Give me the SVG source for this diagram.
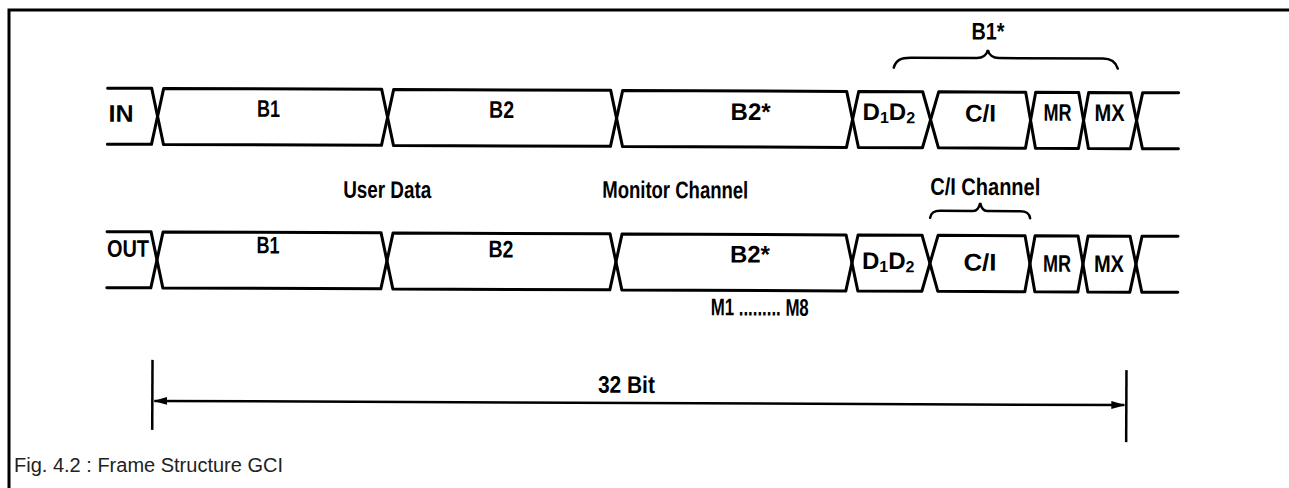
<svg xmlns="http://www.w3.org/2000/svg" width="1289" height="488" viewBox="0 0 1289 488">
<style>
.cell{fill:none;stroke:#000;stroke-width:3;stroke-linejoin:round;stroke-linecap:round}
.lbl{font-family:"Liberation Sans",Arial,sans-serif;font-weight:bold;font-size:24px;fill:#000}
.sub{font-size:16px}
.cap{font-family:"Liberation Sans",Arial,sans-serif;font-size:20px;fill:#222}
.brace{fill:none;stroke:#000;stroke-width:2.5;stroke-linecap:round}
.dim{stroke:#000;stroke-width:2.5;fill:none}
</style>
<defs>
<marker id="ah" viewBox="0 0 14 10" refX="13" refY="5" markerWidth="14" markerHeight="10" markerUnits="userSpaceOnUse" orient="auto-start-reverse">
<path d="M0,1 L14,5 L0,9 Z" fill="#000"/>
</marker>
</defs>
<rect width="1289" height="488" fill="#fff"/>
<path d="M9,488 V10 H1289" fill="none" stroke="#000" stroke-width="3"/>
<g transform="rotate(0.25 640 250)">
<g id="in-row">
<g id="in-stub"><path class="cell" d="M107,90.5 H151 L157,118.5 L151,146.5 H107"/><text class="lbl" x="108" y="124" textLength="25" lengthAdjust="spacingAndGlyphs">IN</text></g>
<g id="in-b1"><path class="cell" d="M157,118.5 L163,90.5 H381 L387,118.5 L381,146.5 H163 Z"/><text class="lbl" x="268" y="118.5" text-anchor="middle" textLength="23" lengthAdjust="spacingAndGlyphs">B1</text></g>
<g id="in-b2"><path class="cell" d="M387,118.5 L393,90.5 H610 L616,118.5 L610,146.5 H393 Z"/><text class="lbl" x="501" y="118.5" text-anchor="middle" textLength="25" lengthAdjust="spacingAndGlyphs">B2</text></g>
<g id="in-b2s"><path class="cell" d="M616,118.5 L622,90.5 H846 L852,118.5 L846,146.5 H622 Z"/><text class="lbl" x="750" y="119.5" text-anchor="middle" textLength="40" lengthAdjust="spacingAndGlyphs">B2*</text></g>
<g id="in-d1d2"><path class="cell" d="M852,118.5 L858,90.5 H922 L930,118.5 L922,146.5 H858 Z"/><text class="lbl" x="862" y="119">D<tspan class="sub" dy="3">1</tspan><tspan dy="-3">D</tspan><tspan class="sub" dy="3">2</tspan></text></g>
<g id="in-ci"><path class="cell" d="M930,118.5 L938,90.5 H1025 L1030,118.5 L1025,146.5 H938 Z"/><text class="lbl" x="980" y="120" text-anchor="middle" textLength="31" lengthAdjust="spacingAndGlyphs">C/I</text></g>
<g id="in-mr"><path class="cell" d="M1030,118.5 L1035,90.5 H1078 L1083,118.5 L1078,146.5 H1035 Z"/><text class="lbl" x="1057" y="119" text-anchor="middle" textLength="28" lengthAdjust="spacingAndGlyphs">MR</text></g>
<g id="in-mx"><path class="cell" d="M1083,118.5 L1088,90.5 H1130 L1136,118.5 L1130,146.5 H1088 Z"/><text class="lbl" x="1109" y="119" text-anchor="middle" textLength="30" lengthAdjust="spacingAndGlyphs">MX</text></g>
<g id="in-end"><path class="cell" d="M1178,90.5 H1142 L1136,118.5 L1142,146.5 H1178"/></g>
</g>
<g id="out-row">
<g id="out-stub"><path class="cell" d="M107,234 H151 L157,262 L151,290 H107"/><text class="lbl" x="107" y="259" textLength="42" lengthAdjust="spacingAndGlyphs">OUT</text></g>
<g id="out-b1"><path class="cell" d="M157,262 L163,234 H381 L387,262 L381,290 H163 Z"/><text class="lbl" x="268" y="255" text-anchor="middle" textLength="23" lengthAdjust="spacingAndGlyphs">B1</text></g>
<g id="out-b2"><path class="cell" d="M387,262 L393,234 H610 L616,262 L610,290 H393 Z"/><text class="lbl" x="501" y="258" text-anchor="middle" textLength="25" lengthAdjust="spacingAndGlyphs">B2</text></g>
<g id="out-b2s"><path class="cell" d="M616,262 L622,234 H846 L852,262 L846,290 H622 Z"/><text class="lbl" x="750" y="262" text-anchor="middle" textLength="40" lengthAdjust="spacingAndGlyphs">B2*</text></g>
<g id="out-d1d2"><path class="cell" d="M852,262 L858,234 H922 L930,262 L922,290 H858 Z"/><text class="lbl" x="862" y="268">D<tspan class="sub" dy="3">1</tspan><tspan dy="-3">D</tspan><tspan class="sub" dy="3">2</tspan></text></g>
<g id="out-ci"><path class="cell" d="M930,262 L938,234 H1025 L1030,262 L1025,290 H938 Z"/><text class="lbl" x="980" y="269" text-anchor="middle" textLength="33" lengthAdjust="spacingAndGlyphs">C/I</text></g>
<g id="out-mr"><path class="cell" d="M1030,262 L1035,234 H1078 L1083,262 L1078,290 H1035 Z"/><text class="lbl" x="1057" y="270" text-anchor="middle" textLength="28" lengthAdjust="spacingAndGlyphs">MR</text></g>
<g id="out-mx"><path class="cell" d="M1083,262 L1088,234 H1130 L1136,262 L1130,290 H1088 Z"/><text class="lbl" x="1109" y="270" text-anchor="middle" textLength="30" lengthAdjust="spacingAndGlyphs">MX</text></g>
<g id="out-end"><path class="cell" d="M1178,234 H1142 L1136,262 L1142,290 H1178"/></g>
</g>
<g id="labels">
<g id="b1star"><path class="brace" d="M893,66.5 C895,59 900,56.5 910,56.5 L976,56.5 C982,56.5 986,53 987,48.5 C988,53 992,56.5 998,56.5 L1102,56.5 C1110,56.5 1115,60 1117,66.5"/><text class="lbl" x="987" y="38" text-anchor="middle" textLength="33" lengthAdjust="spacingAndGlyphs">B1*</text></g>
<text class="lbl" x="387" y="199" text-anchor="middle" font-size="22" textLength="88" lengthAdjust="spacingAndGlyphs">User Data</text>
<text class="lbl" x="675" y="198" text-anchor="middle" font-size="22" textLength="146" lengthAdjust="spacingAndGlyphs">Monitor Channel</text>
<g id="ci-channel"><path class="brace" d="M930,216.5 C931,211 934,209.5 940,209.5 L973,209.5 C977,209.5 979,206 980,201.5 C981,206 983,209.5 987,209.5 L1020,209.5 C1026,209.5 1029,211 1030,216.5"/><text class="lbl" x="985" y="193.5" text-anchor="middle" font-size="22" textLength="110" lengthAdjust="spacingAndGlyphs">C/I Channel</text></g>
<text class="lbl" x="760" y="315" text-anchor="middle" font-size="21" textLength="98" lengthAdjust="spacingAndGlyphs">M1 ......... M8</text>
</g>
<g id="connectors">
<path class="dim" d="M153,362 V432"/>
<path class="dim" d="M1127,368 V440"/>
<path class="dim" d="M155,403 H1125" marker-start="url(#ah)" marker-end="url(#ah)"/>
<text class="lbl" x="627" y="393" text-anchor="middle" font-size="22" textLength="57" lengthAdjust="spacingAndGlyphs">32 Bit</text>
</g>
</g>
<text class="cap" x="14" y="472" textLength="269" lengthAdjust="spacingAndGlyphs">Fig. 4.2 : Frame Structure GCI</text>
</svg>
